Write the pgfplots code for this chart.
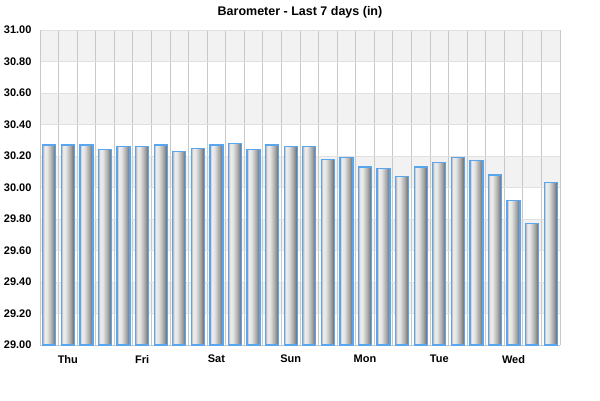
\documentclass[border=0pt]{standalone}
\usepackage{fontspec}
\setmainfont{Liberation Sans}
\usepackage{pgfplots}
\pgfplotsset{compat=1.18}
\definecolor{barblue}{HTML}{5AA5F0}
\definecolor{gridv}{HTML}{C8C8C8}
\definecolor{gridh}{HTML}{E0E0E0}
\definecolor{band}{HTML}{F2F2F2}
\definecolor{sA}{HTML}{B4B4B4}
\definecolor{sB}{HTML}{EEEEEE}
\definecolor{sC}{HTML}{E4E4E4}
\definecolor{sD}{HTML}{A8A8A8}
\definecolor{sE}{HTML}{787878}
\definecolor{sF}{HTML}{6E6E6E}
\pgfdeclarehorizontalshading{barshade}{100bp}{color(0bp)=(sA); color(25bp)=(sA); color(32bp)=(sB); color(42bp)=(sC); color(60bp)=(sD); color(71bp)=(sE); color(75bp)=(sF); color(100bp)=(sF)}
\pgfplotsset{onebar/.style={ybar, bar width=0.7, bar shift=0pt, draw=barblue, line width=1.2pt, shading=barshade}}
\begin{document}
\begin{tikzpicture}
\begin{axis}[
  set layers=standard,
  scale only axis, width=520pt, height=315pt,
  y coord trafo/.code={\pgfmathparse{#1-29}},
  y coord inv trafo/.code={\pgfmathparse{#1+29}},
  xmin=-0.5, xmax=27.5, ymin=29, ymax=31,
  axis x line*=bottom, axis y line*=left,
  axis line style={gridv, line width=1pt},
  xtick={1,5,9,13,17,21,25},
  xticklabels={Thu,Fri,Sat,Sun,Mon,Tue,Wed},
  minor xtick={-0.5,0.5,...,27.5},
  xminorgrids=true, xmajorgrids=false, ymajorgrids=true,
  minor grid style={gridv, line width=1pt},
  major grid style={gridh, line width=1pt},
  major tick length=0pt, minor tick length=0pt,
  ytick={29,29.2,29.4,29.6,29.8,30,30.2,30.4,30.6,30.8,31},
  yticklabel style={/pgf/number format/fixed, /pgf/number format/fixed zerofill, /pgf/number format/precision=2, xshift=-5pt},
  /pgf/number format/assume math mode=true,
  tick label style={font=\bfseries\fontsize{11}{13}\selectfont, color=black},
  xticklabel style={yshift=-6.5pt},
  title={Barometer - Last 7 days (in)},
  title style={font=\bfseries\fontsize{12.5}{14}\selectfont, at={(0.5,1)}, anchor=base, yshift=9pt},
]
\begin{pgfonlayer}{axis background}
\fill[band] (axis cs:-0.5,30.8) rectangle (axis cs:27.5,31.0);
\fill[band] (axis cs:-0.5,30.4) rectangle (axis cs:27.5,30.6);
\fill[band] (axis cs:-0.5,30.0) rectangle (axis cs:27.5,30.2);
\fill[band] (axis cs:-0.5,29.6) rectangle (axis cs:27.5,29.8);
\fill[band] (axis cs:-0.5,29.2) rectangle (axis cs:27.5,29.4);
\end{pgfonlayer}
\addplot[onebar] coordinates {(0,30.27)};
\addplot[onebar] coordinates {(1,30.27)};
\addplot[onebar] coordinates {(2,30.27)};
\addplot[onebar] coordinates {(3,30.24)};
\addplot[onebar] coordinates {(4,30.26)};
\addplot[onebar] coordinates {(5,30.26)};
\addplot[onebar] coordinates {(6,30.27)};
\addplot[onebar] coordinates {(7,30.23)};
\addplot[onebar] coordinates {(8,30.25)};
\addplot[onebar] coordinates {(9,30.27)};
\addplot[onebar] coordinates {(10,30.28)};
\addplot[onebar] coordinates {(11,30.24)};
\addplot[onebar] coordinates {(12,30.27)};
\addplot[onebar] coordinates {(13,30.26)};
\addplot[onebar] coordinates {(14,30.26)};
\addplot[onebar] coordinates {(15,30.18)};
\addplot[onebar] coordinates {(16,30.19)};
\addplot[onebar] coordinates {(17,30.13)};
\addplot[onebar] coordinates {(18,30.12)};
\addplot[onebar] coordinates {(19,30.07)};
\addplot[onebar] coordinates {(20,30.13)};
\addplot[onebar] coordinates {(21,30.16)};
\addplot[onebar] coordinates {(22,30.19)};
\addplot[onebar] coordinates {(23,30.17)};
\addplot[onebar] coordinates {(24,30.08)};
\addplot[onebar] coordinates {(25,29.92)};
\addplot[onebar] coordinates {(26,29.77)};
\addplot[onebar] coordinates {(27,30.03)};
\end{axis}
\path (-40pt,-55pt) rectangle (560pt,345pt);
\end{tikzpicture}
\end{document}
